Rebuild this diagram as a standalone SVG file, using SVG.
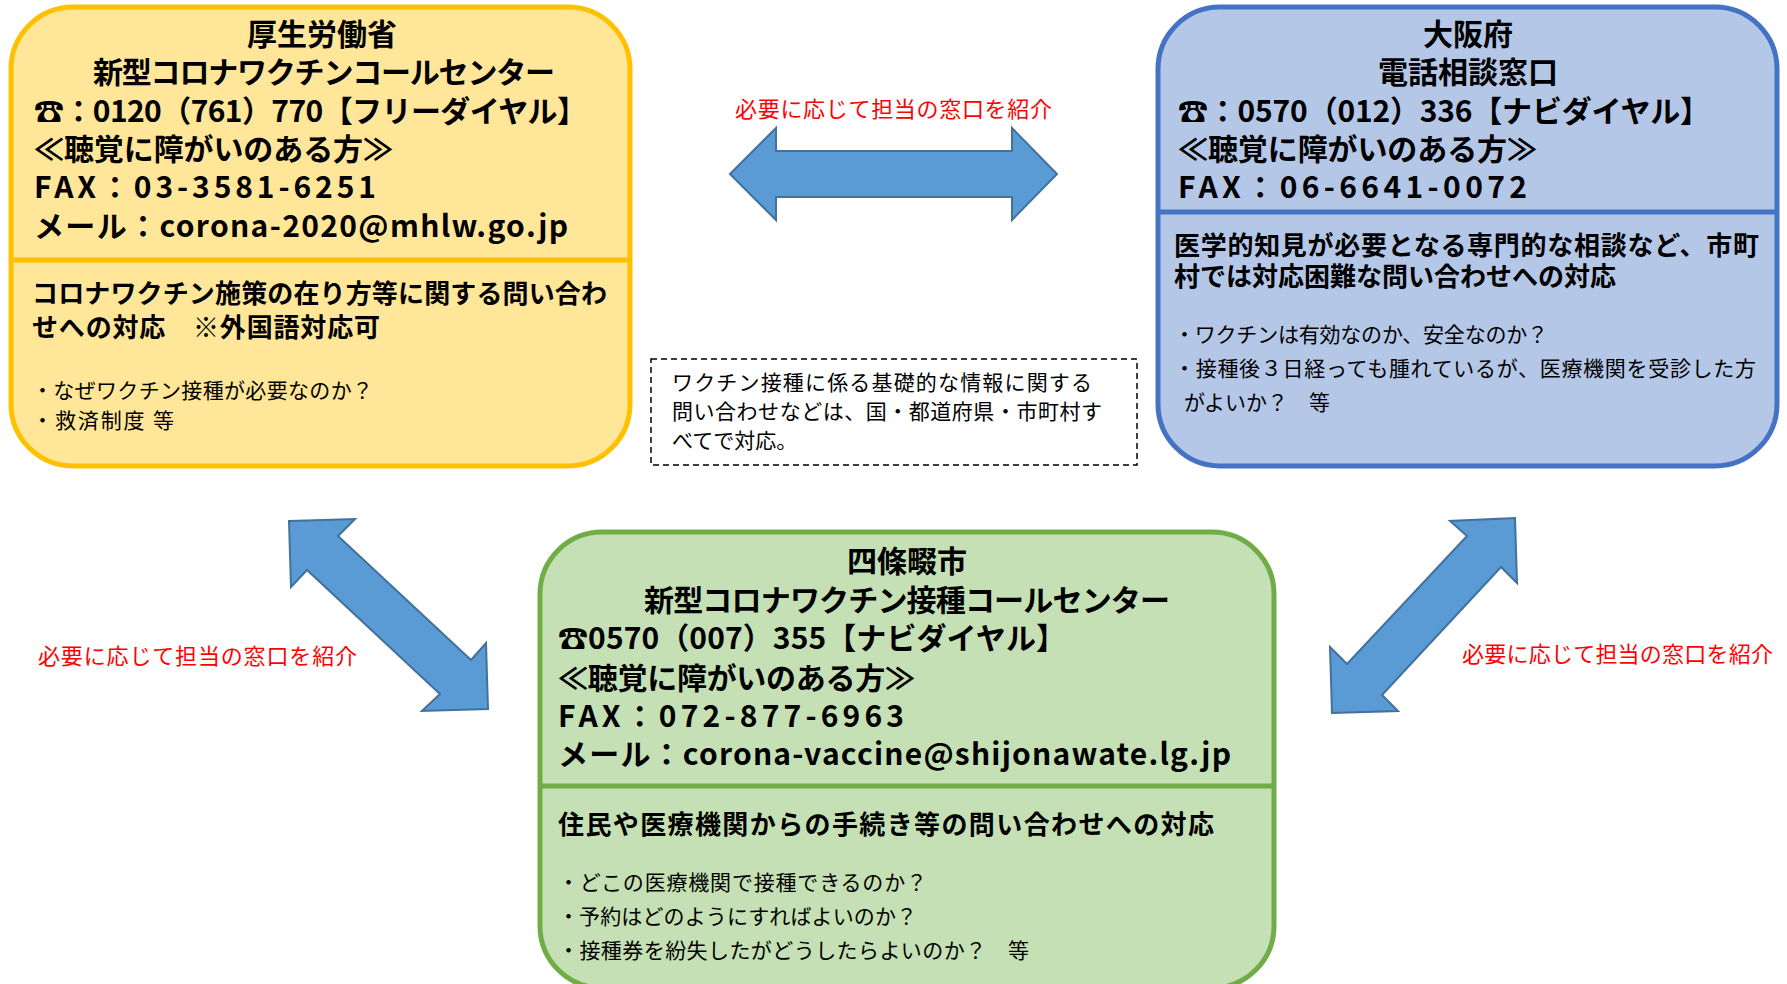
<svg xmlns="http://www.w3.org/2000/svg" width="1787" height="984" viewBox="0 0 1787 984">
<style>
.hd{font-family:"Noto Sans CJK JP","Noto Sans",sans-serif;font-weight:bold;font-size:30px;fill:#000}
.sub{font-family:"Noto Sans CJK JP","Noto Sans",sans-serif;font-weight:bold;font-size:26px;fill:#000}
.bl{font-family:"Noto Sans CJK JP","Noto Sans",sans-serif;font-size:21px;fill:#000}
.red{font-family:"Noto Sans CJK JP","Noto Sans",sans-serif;font-size:22px;fill:#FF0000}
.arrow{fill:#5B9BD5;stroke:#41719C;stroke-width:2}
</style>
<rect width="1787" height="984" fill="#FFFFFF"/>
<g id="connectors">
<polygon class="arrow" points="730,174 776,128 776,151 1012,151 1012,128 1057,174 1012,220 1012,197 776,197 776,220"/>
<polygon class="arrow" points="289,521 355,519 338,536 471,660 486,643 488,709 422,711 440,694 307,570 291,587"/>
<polygon class="arrow" points="1332,713 1330,647 1347,664 1467,536 1450,521 1515,518 1517,583 1501,567 1382,695 1398,711"/>
<text class="red" x="735" y="117" textLength="317">必要に応じて担当の窓口を紹介</text>
<text class="red" x="38" y="664" textLength="319">必要に応じて担当の窓口を紹介</text>
<text class="red" x="1462" y="662" textLength="311">必要に応じて担当の窓口を紹介</text>
</g>
<g id="mhlw">
<rect x="11" y="7" width="619" height="459" rx="62" fill="#FFE699" stroke="#FFC000" stroke-width="5"/>
<line x1="11" y1="260" x2="630" y2="260" stroke="#FFC000" stroke-width="5"/>
<text class="hd" x="322" y="45" text-anchor="middle">厚生労働省</text>
<text class="hd" x="324" y="83" text-anchor="middle" textLength="462">新型コロナワクチンコールセンター</text>
<text class="hd" x="34" y="122" textLength="553">☎：0120（761）770【フリーダイヤル】</text>
<text class="hd" x="34" y="160" textLength="359">≪聴覚に障がいのある方≫</text>
<text class="hd" x="34" y="198" textLength="342">FAX：03-3581-6251</text>
<text class="hd" x="34" y="237" textLength="534">メール：corona-2020@mhlw.go.jp</text>
<text class="sub" x="32" y="303" textLength="575">コロナワクチン施策の在り方等に関する問い合わ</text>
<text class="sub" x="32" y="337" textLength="348">せへの対応　※外国語対応可</text>
<text class="bl" x="32" y="398" textLength="341">・なぜワクチン接種が必要なのか？</text>
<text class="bl" x="32" y="428" textLength="142">・救済制度 等</text>
</g>
<g id="osaka">
<rect x="1158" y="7" width="619" height="459" rx="62" fill="#B4C7E7" stroke="#4472C4" stroke-width="5"/>
<line x1="1158" y1="212" x2="1777" y2="212" stroke="#4472C4" stroke-width="5"/>
<text class="hd" x="1468" y="45" text-anchor="middle">大阪府</text>
<text class="hd" x="1468" y="83" text-anchor="middle">電話相談窓口</text>
<text class="hd" x="1178" y="122" textLength="532">☎：0570（012）336【ナビダイヤル】</text>
<text class="hd" x="1178" y="160" textLength="359">≪聴覚に障がいのある方≫</text>
<text class="hd" x="1178" y="198" textLength="349">FAX：06-6641-0072</text>
<text class="sub" x="1174" y="255" textLength="585">医学的知見が必要となる専門的な相談など、市町</text>
<text class="sub" x="1174" y="286">村では対応困難な問い合わせへの対応</text>
<text class="bl" x="1174" y="342" textLength="374">・ワクチンは有効なのか、安全なのか？</text>
<text class="bl" x="1174" y="376" textLength="582">・接種後３日経っても腫れているが、医療機関を受診した方</text>
<text class="bl" x="1184" y="410">がよいか？　等</text>
</g>
<g id="shijonawate">
<rect x="540" y="532" width="734" height="456" rx="62" fill="#C5E0B4" stroke="#70AD47" stroke-width="5"/>
<line x1="540" y1="786" x2="1274" y2="786" stroke="#70AD47" stroke-width="5"/>
<text class="hd" x="907" y="572" text-anchor="middle">四條畷市</text>
<text class="hd" x="907" y="611" text-anchor="middle" textLength="526">新型コロナワクチン接種コールセンター</text>
<text class="hd" x="558" y="649" textLength="508">☎0570（007）355【ナビダイヤル】</text>
<text class="hd" x="558" y="689" textLength="357">≪聴覚に障がいのある方≫</text>
<text class="hd" x="558" y="727" textLength="346">FAX：072-877-6963</text>
<text class="hd" x="558" y="765" textLength="673">メール：corona-vaccine@shijonawate.lg.jp</text>
<text class="sub" x="558" y="834" textLength="656">住民や医療機関からの手続き等の問い合わせへの対応</text>
<text class="bl" x="558" y="890" textLength="369">・どこの医療機関で接種できるのか？</text>
<text class="bl" x="558" y="924" textLength="359">・予約はどのようにすればよいのか？</text>
<text class="bl" x="558" y="958" textLength="471">・接種券を紛失したがどうしたらよいのか？　等</text>
</g>
<g id="note">
<rect x="651" y="359" width="486" height="106" fill="none" stroke="#000" stroke-width="1.5" stroke-dasharray="6,4"/>
<text class="bl" x="672" y="390" textLength="420">ワクチン接種に係る基礎的な情報に関する</text>
<text class="bl" x="672" y="419" textLength="430">問い合わせなどは、国・都道府県・市町村す</text>
<text class="bl" x="672" y="448">べてで対応。</text>
</g>
</svg>
